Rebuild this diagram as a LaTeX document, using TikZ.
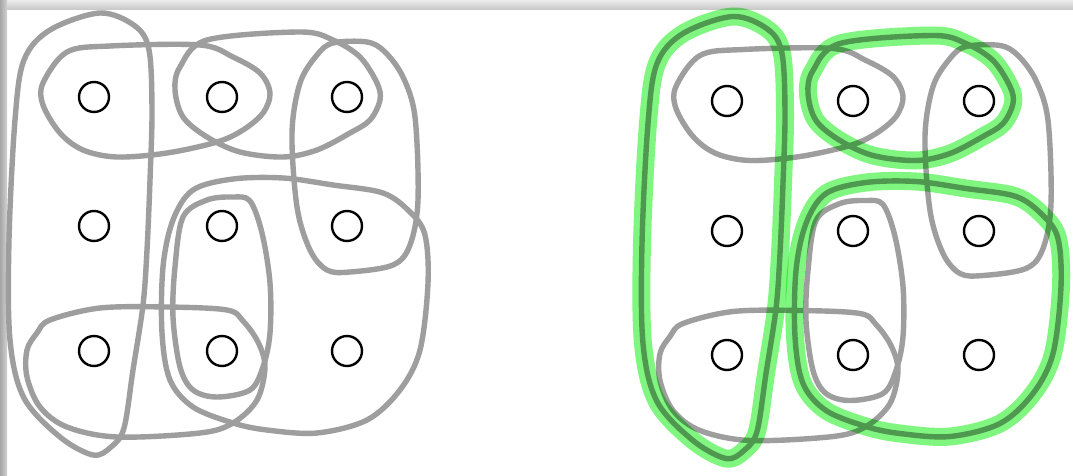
\documentclass[tikz,border=0pt]{standalone}
\usetikzlibrary{calc}
\definecolor{loopgray}{HTML}{9E9E9E}
\definecolor{hlgreen}{HTML}{80F680}
\tikzset{
  vtx/.style={circle, draw=black, line width=2.4pt, minimum size=30pt, inner sep=0pt},
  hloop/.style={draw=loopgray, line width=5.4pt, line join=round},
  hband/.style={draw=hlgreen, line width=18pt, line join=round, blend mode=multiply},
}
\newcommand{\LoopA}{(100,13) (135,26) (149,50) (152,110) (150,180) (147,250) (143,305) (133,370) (124,428) (111,447) (93,455) (60,437) (24,398) (10,340) (9,240) (15,120) (24,60) (50,30)}
\newcommand{\LoopB}{(43,83) (67,52) (110,46) (200,45) (233,57) (260,73) (270,93) (263,113) (243,130) (217,142) (167,153) (117,157) (83,150) (60,133) (43,105)}
\newcommand{\LoopC}{(180,67) (207,40) (300,32) (333,40) (360,57) (377,83) (380,100) (370,120) (350,133) (317,150) (283,157) (240,152) (207,137) (183,117) (175,90)}
\newcommand{\LoopD}{(333,43) (367,42) (385,52) (403,77) (415,117) (418,200) (410,245) (393,265) (350,272) (327,270) (310,250) (297,207) (292,133) (300,83) (317,55)}
\newcommand{\LoopE}{(193,190) (233,179) (283,178) (333,185) (383,193) (410,212) (425,235) (428,283) (420,350) (400,390) (367,420) (317,433) (267,430) (233,423) (193,407) (170,380) (162,333) (163,267) (173,220)}
\newcommand{\LoopF}{(207,200) (233,197) (250,201) (262,233) (270,283) (270,333) (263,367) (250,390) (217,397) (193,390) (180,367) (173,317) (175,267) (183,217)}
\newcommand{\LoopG}{(50,320) (100,308) (167,307) (227,310) (243,321) (258,342) (265,367) (257,400) (233,423) (200,433) (117,437) (67,427) (40,407) (27,377) (27,350) (37,333)}
\begin{document}
\begin{tikzpicture}[x=1pt,y=-1pt]
\useasboundingbox (0,0) rectangle (1073,476);
\fill[white] (0,0) rectangle (1073,476);
% screenshot chrome
\shade[top color=gray!15, bottom color=gray!45] (0,0) rectangle (1073,10);
\shade[left color=gray!70, right color=gray!35] (0,0) rectangle (7,476);
% left panel loops
\foreach \L in {\LoopA,\LoopB,\LoopC,\LoopD,\LoopE,\LoopF,\LoopG}{
  \draw[hloop] plot[smooth cycle, tension=0.55] coordinates {\L};
}
% right panel loops
\begin{scope}[shift={(633,3.5)}]
\foreach \L in {\LoopA,\LoopB,\LoopC,\LoopD,\LoopE,\LoopF,\LoopG}{
  \draw[hloop] plot[smooth cycle, tension=0.55] coordinates {\L};
}
\foreach \L in {\LoopA,\LoopC,\LoopE}{
  \draw[hband] plot[smooth cycle, tension=0.55] coordinates {\L};
}
\end{scope}
% vertices
\foreach \c/\x in {1/94,2/222,3/347}{
  \foreach \r/\y in {1/97,2/226,3/351}{
    \node[vtx] (a\r\c) at (\x,\y) {};
  }
}
\foreach \c/\x in {1/727,2/853,3/979}{
  \foreach \r/\y in {1/101,2/231,3/355}{
    \node[vtx] (b\r\c) at (\x,\y) {};
  }
}
\end{tikzpicture}
\end{document}
